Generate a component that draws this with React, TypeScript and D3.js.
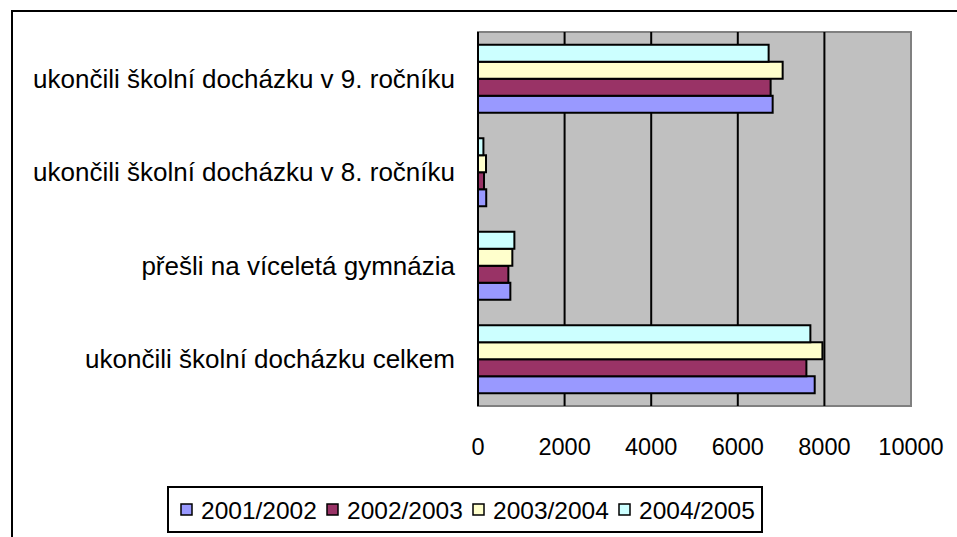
import * as d3 from "d3";

const WIDTH = 957;
const HEIGHT = 537;

// categories listed top to bottom as they appear in the chart
const categories = [
  "ukončili školní docházku v 9. ročníku",
  "ukončili školní docházku v 8. ročníku",
  "přešli na víceletá gymnázia",
  "ukončili školní docházku celkem",
];

const seriesNames = ["2001/2002", "2002/2003", "2003/2004", "2004/2005"];
const seriesColors = ["#9999ff", "#993366", "#ffffcc", "#ccffff"];

const values2001 = [6805, 190, 747, 7776];
const values2002 = [6758, 139, 701, 7584];
const values2003 = [7036, 185, 793, 7954];
const values2004 = [6712, 125, 840, 7676];

const xTicks = [0, 2000, 4000, 6000, 8000, 10000];

const PLOT = { left: 478, right: 911, top: 32, bottom: 406 };
const FONT = "'Liberation Sans', Arial, sans-serif";

export default function App() {
  const series = [values2001, values2002, values2003, values2004];

  const xScale = d3.scaleLinear().domain([0, 10000]).range([PLOT.left, PLOT.right]);
  const yScale = d3.scaleBand().domain(categories).range([PLOT.top, PLOT.bottom]);

  // excel gap width 150%: group of 4 bars takes 4 / 5.5 of the band
  const band = yScale.bandwidth();
  const groupH = (band * 4) / 5.5;
  const groupOff = (band - groupH) / 2;
  // top to bottom inside a group: newest year first
  const inner = d3
    .scaleBand()
    .domain(seriesNames.slice().reverse())
    .range([groupOff, groupOff + groupH]);

  // legend entries laid out left to right
  const legendScale = d3.scalePoint().domain(seriesNames).range([181, 181 + 146 * 3]);

  return (
    <svg
      width={WIDTH}
      height={HEIGHT}
      style={{ position: "absolute", left: 0, top: 0, background: "#fff" }}
    >
      {/* outer chart border, cut off right and bottom */}
      <rect x={12} y={11} width={1000} height={600} fill="#fff" stroke="#000" strokeWidth={2} />

      {/* plot area */}
      <rect
        x={PLOT.left}
        y={PLOT.top}
        width={PLOT.right - PLOT.left}
        height={PLOT.bottom - PLOT.top}
        fill="#c0c0c0"
        stroke="#808080"
        strokeWidth={2}
      />

      {/* gridlines */}
      {xTicks.slice(1, -1).map((t) => (
        <line
          key={t}
          x1={xScale(t)}
          x2={xScale(t)}
          y1={PLOT.top}
          y2={PLOT.bottom}
          stroke="#000"
          strokeWidth={2}
        />
      ))}

      {/* bars */}
      {series.map((vals, si) =>
        vals.map((v, ci) => (
          <rect
            key={`${si}-${ci}`}
            x={xScale(0)}
            y={(yScale(categories[ci]) ?? 0) + (inner(seriesNames[si]) ?? 0)}
            width={xScale(v) - xScale(0)}
            height={inner.bandwidth()}
            fill={seriesColors[si]}
            stroke="#000"
            strokeWidth={2}
          />
        ))
      )}

      {/* value axis line */}
      <line x1={PLOT.left} x2={PLOT.left} y1={PLOT.top} y2={PLOT.bottom} stroke="#000" strokeWidth={2} />

      {/* category labels */}
      {categories.map((c) => (
        <text
          key={c}
          x={455}
          y={(yScale(c) ?? 0) + band / 2}
          textAnchor="end"
          dominantBaseline="central"
          fontFamily={FONT}
          fontSize={26}
          fill="#000"
        >
          {c}
        </text>
      ))}

      {/* x tick labels */}
      {xTicks.map((t) => (
        <text
          key={t}
          x={xScale(t)}
          y={447}
          textAnchor="middle"
          dominantBaseline="central"
          fontFamily={FONT}
          fontSize={23.5}
          fill="#000"
        >
          {t}
        </text>
      ))}

      {/* legend */}
      <rect x={168} y={487} width={594} height={45} fill="#fff" stroke="#000" strokeWidth={2} />
      {seriesNames.map((s, i) => (
        <g key={s}>
          <rect
            x={legendScale(s) ?? 0}
            y={504}
            width={11}
            height={11}
            fill={seriesColors[i]}
            stroke="#000"
            strokeWidth={1.5}
          />
          <text
            x={(legendScale(s) ?? 0) + 20}
            y={510}
            dominantBaseline="central"
            fontFamily={FONT}
            fontSize={24.5}
            fill="#000"
          >
            {s}
          </text>
        </g>
      ))}
    </svg>
  );
}
